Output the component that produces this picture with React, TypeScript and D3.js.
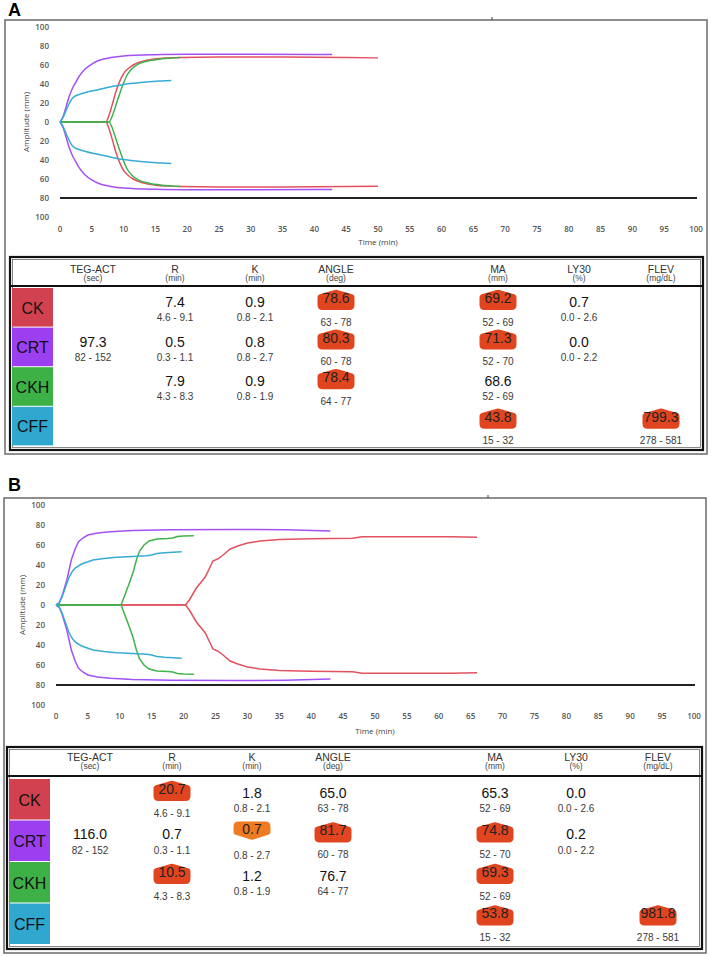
import React from "react";
import * as d3 from "d3";

// ---------- DATA ----------
const rowNames = ["CK", "CRT", "CKH", "CFF"];
const columnNames = ["TEG-ACT", "R", "K", "ANGLE", "MA", "LY30", "FLEV"];
const columnUnits = ["(sec)", "(min)", "(min)", "(deg)", "(mm)", "(%)", "(mg/dL)"];
const xTicks = [0, 5, 10, 15, 20, 25, 30, 35, 40, 45, 50, 55, 60, 65, 70, 75, 80, 85, 90, 95, 100];
const yTicks = [100, 80, 60, 40, 20, 0, -20, -40, -60, -80, -100];
const yTickLabels = ["100", "80", "60", "40", "20", "0", "20", "40", "60", "80", "100"];

// Panel A tracings: [time (min), amplitude (mm)]
const ckA: [number, number][] = [[0, 0], [7.2, 0], [7.6, 5], [8.2, 18], [8.8, 32], [9.4, 43], [10, 51], [10.7, 56], [11.5, 60], [13, 64], [15, 66.5], [17, 67.5], [19, 68], [25, 68.5], [35, 68.4], [45, 68], [50, 67.5]];
const crtA: [number, number][] = [[0, 0], [0.5, 6], [1, 17], [1.5, 28], [2, 36], [2.5, 42], [3, 48], [4, 56], [5, 61], [6, 64.5], [8, 67.8], [10, 69.5], [15, 70.8], [20, 71.2], [30, 71.3], [40, 71.1], [42.8, 71]];
const ckhA: [number, number][] = [[0, 0], [7.7, 0], [8.2, 6], [8.8, 18], [9.4, 30], [10, 41], [10.6, 50], [11.3, 56], [12.3, 61], [14, 64.5], [16, 66.5], [18, 67.5], [18.9, 68]];
const cffA: [number, number][] = [[0, 0], [0.5, 5], [1, 13], [1.5, 20], [2, 25.5], [3, 29], [4, 31], [6, 34], [8, 37], [10, 39.5], [12, 41], [14, 42.3], [16, 43.2], [17.5, 43.8]];

// Panel B tracings
const ckB: [number, number][] = [[0, 0], [20.3, 0], [20.9, 5], [22, 17], [23.4, 28], [24.6, 44], [25.3, 46], [26, 49], [27.3, 56], [28.5, 59], [30, 62], [32, 64], [35, 65.5], [40, 66.3], [46.5, 66.7], [48, 68.2], [55, 68.3], [62, 68.2], [66, 67.8]];
const crtB: [number, number][] = [[0, 0], [0.5, 2], [1, 10], [1.7, 25], [2.4, 45], [3, 56], [3.5, 63], [4.2, 67], [5, 70], [6.5, 72], [8.5, 73.3], [12, 74.5], [18, 75.3], [28, 75.6], [36, 75.2], [43, 74]];
const ckhB: [number, number][] = [[0, 0], [10.2, 0], [10.8, 10], [11.5, 22], [12.1, 33], [12.6, 45], [13.1, 54], [13.8, 60], [14.6, 64], [15.8, 66], [17.5, 66.5], [18.3, 67], [19, 68.5], [20, 69], [21.6, 69.3]];
const cffB: [number, number][] = [[0, 0], [0.5, 2], [1, 9], [1.5, 18], [2, 27], [2.5, 33], [3, 37], [4, 41], [5.8, 45], [7.5, 46.5], [9.5, 47.7], [12, 48.5], [14.2, 49.3], [15, 50], [15.8, 51.5], [17, 52.3], [19.7, 53.3]];

type Cell = { row: number; col: number; value: number; range: string; flag: "" | "high" | "low" };

const cellsA: Cell[] = [
  { row: 0, col: 1, value: 7.4, range: "4.6 - 9.1", flag: "" },
  { row: 0, col: 2, value: 0.9, range: "0.8 - 2.1", flag: "" },
  { row: 0, col: 3, value: 78.6, range: "63 - 78", flag: "high" },
  { row: 0, col: 4, value: 69.2, range: "52 - 69", flag: "high" },
  { row: 0, col: 5, value: 0.7, range: "0.0 - 2.6", flag: "" },
  { row: 1, col: 0, value: 97.3, range: "82 - 152", flag: "" },
  { row: 1, col: 1, value: 0.5, range: "0.3 - 1.1", flag: "" },
  { row: 1, col: 2, value: 0.8, range: "0.8 - 2.7", flag: "" },
  { row: 1, col: 3, value: 80.3, range: "60 - 78", flag: "high" },
  { row: 1, col: 4, value: 71.3, range: "52 - 70", flag: "high" },
  { row: 1, col: 5, value: 0.0, range: "0.0 - 2.2", flag: "" },
  { row: 2, col: 1, value: 7.9, range: "4.3 - 8.3", flag: "" },
  { row: 2, col: 2, value: 0.9, range: "0.8 - 1.9", flag: "" },
  { row: 2, col: 3, value: 78.4, range: "64 - 77", flag: "high" },
  { row: 2, col: 4, value: 68.6, range: "52 - 69", flag: "" },
  { row: 3, col: 4, value: 43.8, range: "15 - 32", flag: "high" },
  { row: 3, col: 6, value: 799.3, range: "278 - 581", flag: "high" },
];

const cellsB: Cell[] = [
  { row: 0, col: 1, value: 20.7, range: "4.6 - 9.1", flag: "high" },
  { row: 0, col: 2, value: 1.8, range: "0.8 - 2.1", flag: "" },
  { row: 0, col: 3, value: 65.0, range: "63 - 78", flag: "" },
  { row: 0, col: 4, value: 65.3, range: "52 - 69", flag: "" },
  { row: 0, col: 5, value: 0.0, range: "0.0 - 2.6", flag: "" },
  { row: 1, col: 0, value: 116.0, range: "82 - 152", flag: "" },
  { row: 1, col: 1, value: 0.7, range: "0.3 - 1.1", flag: "" },
  { row: 1, col: 2, value: 0.7, range: "0.8 - 2.7", flag: "low" },
  { row: 1, col: 3, value: 81.7, range: "60 - 78", flag: "high" },
  { row: 1, col: 4, value: 74.8, range: "52 - 70", flag: "high" },
  { row: 1, col: 5, value: 0.2, range: "0.0 - 2.2", flag: "" },
  { row: 2, col: 1, value: 10.5, range: "4.3 - 8.3", flag: "high" },
  { row: 2, col: 2, value: 1.2, range: "0.8 - 1.9", flag: "" },
  { row: 2, col: 3, value: 76.7, range: "64 - 77", flag: "" },
  { row: 2, col: 4, value: 69.3, range: "52 - 69", flag: "high" },
  { row: 3, col: 4, value: 53.8, range: "15 - 32", flag: "high" },
  { row: 3, col: 6, value: 981.8, range: "278 - 581", flag: "high" },
];

// ---------- STYLE ----------
const rowColors = ["#d2414f", "#9b3ff0", "#3db145", "#2fa7cf"];
const lineColors = ["#e2515f", "#a550f5", "#3fb34b", "#38abd2"];
const HIGH = "#e0451f";
const LOW = "#ee7a22";
const FONT = "'Liberation Sans', Arial, sans-serif";
const AXFONT = "'Open Sans', 'Liberation Sans', sans-serif";
const colOffsets = [83, 165, 245, 326, 488, 569, 651];

type PanelCfg = {
  label: string; labelY: number;
  frame: { x: number; y: number; w: number; h: number };
  topTickX: number;
  y0: number; yPx: number; x0: number; xPx: number;
  xLabelY: number; timeY: number;
  table: { x: number; y: number; w: number; h: number; headerLine: number; rowTop: number; rowH: number; nameY: number; unitY: number };
  curves: [number, number][][];
  smooth: boolean;
  cells: Cell[];
};

const panels: PanelCfg[] = [
  {
    label: "A", labelY: 16,
    frame: { x: 5, y: 20, w: 702, h: 434 }, topTickX: 492,
    y0: 122, yPx: 0.95, x0: 60, xPx: 6.36, xLabelY: 232, timeY: 245,
    table: { x: 10, y: 257, w: 693, h: 193, headerLine: 286, rowTop: 288, rowH: 39.6, nameY: 12, unitY: 21 },
    curves: [ckA, crtA, ckhA, cffA], smooth: true, cells: cellsA,
  },
  {
    label: "B", labelY: 491,
    frame: { x: 4, y: 498, w: 702, h: 455 }, topTickX: 488,
    y0: 605, yPx: 1.0, x0: 56, xPx: 6.38, xLabelY: 719, timeY: 734,
    table: { x: 7, y: 747, w: 695, h: 202, headerLine: 776, rowTop: 779, rowH: 41.5, nameY: 10, unitY: 19 },
    curves: [ckB, crtB, ckhB, cffB], smooth: false, cells: cellsB,
  },
];

function highBadge(cx: number, y0: number) {
  const hw = 18.5;
  return `M${cx - hw},${y0 + 7.5} Q${cx - hw},${y0 + 4.5} ${cx - hw + 3},${y0 + 4} L${cx - 3},${y0 + 0.4} Q${cx},${y0 - 0.8} ${cx + 3},${y0 + 0.4} L${cx + hw - 3},${y0 + 4} Q${cx + hw},${y0 + 4.5} ${cx + hw},${y0 + 7.5} L${cx + hw},${y0 + 15} Q${cx + hw},${y0 + 20} ${cx + hw - 5},${y0 + 20} L${cx - hw + 5},${y0 + 20} Q${cx - hw},${y0 + 20} ${cx - hw},${y0 + 15} Z`;
}
function lowBadge(cx: number, y0: number) {
  const hw = 18.5;
  return `M${cx - hw},${y0 + 5} Q${cx - hw},${y0} ${cx - hw + 5},${y0} L${cx + hw - 5},${y0} Q${cx + hw},${y0} ${cx + hw},${y0 + 5} L${cx + hw},${y0 + 10} Q${cx + hw},${y0 + 13} ${cx + hw - 3},${y0 + 13.5} L${cx + 3},${y0 + 17.6} Q${cx},${y0 + 18.8} ${cx - 3},${y0 + 17.6} L${cx - hw + 3},${y0 + 13.5} Q${cx - hw},${y0 + 13} ${cx - hw},${y0 + 10} Z`;
}

function Panel({ p }: { p: PanelCfg }) {
  const xs = d3.scaleLinear().domain([0, 100]).range([p.x0, p.x0 + 100 * p.xPx]);
  const ys = d3.scaleLinear().domain([-100, 100]).range([p.y0 + 100 * p.yPx, p.y0 - 100 * p.yPx]);
  const line = d3.line<[number, number]>()
    .x((d) => xs(d[0]))
    .y((d) => ys(d[1]))
    .curve(p.smooth ? d3.curveMonotoneX : d3.curveLinear);
  const t = p.table;
  return (
    <g>
      <text x={8} y={p.labelY} fontFamily={FONT} fontWeight="bold" fontSize={18} fill="#000">{p.label}</text>
      <rect x={p.frame.x} y={p.frame.y} width={p.frame.w} height={p.frame.h} fill="none" stroke="#6a6a6a" strokeWidth={1.5} />
      <line x1={p.topTickX} x2={p.topTickX} y1={p.frame.y - 3} y2={p.frame.y} stroke="#444" strokeWidth={1} />
      {/* y axis labels */}
      {yTicks.map((v, i) => (
        <text key={"y" + i} x={p.x0 - 11} y={ys(v)} dy="0.35em" textAnchor="end" fontFamily={AXFONT} fontWeight={600} fontSize={8} fill="#555">{yTickLabels[i]}</text>
      ))}
      <text transform={`translate(${p.x0 - 34},${p.y0}) rotate(-90)`} textAnchor="middle" dy="0.35em" fontFamily={AXFONT} fontSize={8} fill="#444">Amplitude (mm)</text>
      {xTicks.map((v) => (
        <text key={"x" + v} x={xs(v)} y={p.xLabelY} textAnchor="middle" fontFamily={AXFONT} fontWeight={600} fontSize={8} fill="#555">{v}</text>
      ))}
      <text x={xs(50)} y={p.timeY} textAnchor="middle" fontFamily={AXFONT} fontSize={8} fill="#444">Time (min)</text>
      <line x1={xs(0)} x2={xs(100) + 1} y1={ys(-80)} y2={ys(-80)} stroke="#222" strokeWidth={1.8} />
      {/* tracings */}
      {p.curves.map((c, i) => (
        <g key={"c" + i}>
          <path d={line(c) || ""} fill="none" stroke={lineColors[i]} strokeWidth={1.5} />
          <path d={line(c.map((d) => [d[0], -d[1]] as [number, number])) || ""} fill="none" stroke={lineColors[i]} strokeWidth={1.5} />
        </g>
      ))}
      {/* table */}
      <rect x={t.x} y={t.y} width={t.w} height={t.h} fill="#fff" stroke="#111" strokeWidth={2.2} />
      <rect x={t.x + 2.5} y={t.y + 2.5} width={t.w - 5} height={t.h - 5} fill="none" stroke="#555" strokeWidth={0.7} />
      <line x1={t.x} x2={t.x + t.w} y1={t.headerLine} y2={t.headerLine} stroke="#111" strokeWidth={1.8} />
      {columnNames.map((n, i) => (
        <g key={"h" + i}>
          <text x={t.x + colOffsets[i]} y={t.y + t.nameY} dy="0.35em" textAnchor="middle" fontFamily={FONT} fontSize={10.5} fill="#333">{n}</text>
          <text x={t.x + colOffsets[i]} y={t.y + t.unitY} dy="0.35em" textAnchor="middle" fontFamily={FONT} fontSize={8.5} fill="#444">{columnUnits[i]}</text>
        </g>
      ))}
      {rowNames.map((r, i) => (
        <g key={"r" + i}>
          <rect x={t.x + 2} y={t.rowTop + i * t.rowH} width={41} height={t.rowH - 1} fill={rowColors[i]} />
          <text x={t.x + 22.5} y={t.rowTop + i * t.rowH + t.rowH / 2} dy="0.36em" textAnchor="middle" fontFamily={FONT} fontSize={16} fill="#111">{r}</text>
        </g>
      ))}
      {p.cells.map((c, i) => {
        const cx = t.x + colOffsets[c.col];
        const top = t.rowTop + c.row * t.rowH;
        const label = c.value.toFixed(1);
        if (c.flag === "high") {
          return (
            <g key={"v" + i}>
              <path d={highBadge(cx, top + 2)} fill={HIGH} />
              <text x={cx} y={top + 10} dy="0.35em" textAnchor="middle" fontFamily={FONT} fontSize={14} fill="#222">{label}</text>
              <text x={cx} y={top + 34} dy="0.35em" textAnchor="middle" fontFamily={FONT} fontSize={10} fill="#3a3a3a">{c.range}</text>
            </g>
          );
        }
        if (c.flag === "low") {
          return (
            <g key={"v" + i}>
              <path d={lowBadge(cx, top + 1)} fill={LOW} />
              <text x={cx} y={top + 9} dy="0.35em" textAnchor="middle" fontFamily={FONT} fontSize={14} fill="#222">{label}</text>
              <text x={cx} y={top + 35} dy="0.35em" textAnchor="middle" fontFamily={FONT} fontSize={10} fill="#3a3a3a">{c.range}</text>
            </g>
          );
        }
        return (
          <g key={"v" + i}>
            <text x={cx} y={top + 14} dy="0.35em" textAnchor="middle" fontFamily={FONT} fontSize={14} fill="#111">{label}</text>
            <text x={cx} y={top + 29.5} dy="0.35em" textAnchor="middle" fontFamily={FONT} fontSize={10} fill="#3a3a3a">{c.range}</text>
          </g>
        );
      })}
    </g>
  );
}

export default function App() {
  return (
    <div style={{ position: "absolute", left: 0, top: 0 }}>
      <svg width={711} height={956} viewBox="0 0 711 956" style={{ display: "block", background: "#fff" }}>
        {panels.map((p) => (
          <Panel key={p.label} p={p} />
        ))}
      </svg>
    </div>
  );
}
